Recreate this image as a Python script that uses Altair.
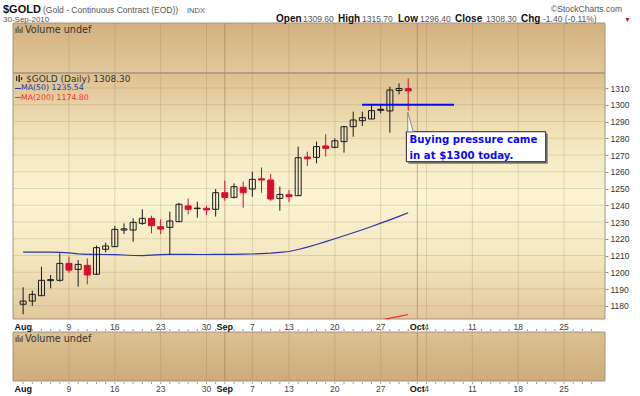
import altair as alt
import pandas as pd
import numpy as np

# ---------------- data ----------------
day_idx = list(range(43))  # Aug 2 .. Sep 30, 2010 trading days
opens = [1180.9, 1182.8, 1186.0, 1195.0, 1195.2, 1205.3, 1201.7, 1204.1, 1198.8, 1213.7,
         1215.3, 1225.2, 1225.2, 1229.2, 1232.2, 1227.2, 1226.8, 1230.2, 1239.6, 1238.0,
         1238.2, 1237.6, 1247.5, 1244.7, 1250.7, 1249.7, 1255.8, 1255.1, 1244.1, 1246.3,
         1245.7, 1268.8, 1268.6, 1275.4, 1274.6, 1278.0, 1286.9, 1290.5, 1291.5, 1297.3,
         1296.3, 1308.5, 1309.6]
highs = [1191.0, 1189.0, 1203.3, 1198.4, 1211.3, 1209.3, 1207.3, 1208.3, 1215.9, 1217.7,
         1227.6, 1229.2, 1232.2, 1237.6, 1233.8, 1231.6, 1236.2, 1241.5, 1244.1, 1242.1,
         1239.6, 1249.7, 1254.7, 1253.1, 1254.1, 1260.0, 1262.6, 1258.7, 1251.1, 1249.1,
         1275.0, 1272.0, 1278.0, 1282.4, 1280.0, 1287.3, 1295.9, 1295.9, 1299.9, 1299.9,
         1310.8, 1312.8, 1315.7]
lows = [1174.9, 1179.9, 1186.0, 1190.4, 1194.4, 1199.7, 1191.4, 1192.8, 1198.4, 1211.9,
        1215.3, 1222.8, 1218.2, 1228.2, 1223.3, 1222.7, 1210.7, 1230.2, 1234.6, 1232.6,
        1234.2, 1233.2, 1242.7, 1244.1, 1238.5, 1245.1, 1247.5, 1242.7, 1236.7, 1241.8,
        1245.7, 1263.4, 1265.0, 1269.0, 1274.0, 1271.4, 1280.9, 1287.3, 1291.5, 1294.9,
        1283.3, 1306.2, 1296.4]
closes = [1182.8, 1186.8, 1195.2, 1195.6, 1205.3, 1201.3, 1204.7, 1198.4, 1214.7, 1215.7,
          1225.6, 1225.9, 1229.8, 1232.2, 1227.8, 1225.8, 1230.6, 1240.6, 1237.6, 1238.3,
          1237.2, 1247.5, 1244.6, 1251.1, 1247.5, 1255.5, 1255.1, 1243.7, 1246.5, 1245.1,
          1268.4, 1267.8, 1275.0, 1274.0, 1278.5, 1286.9, 1290.9, 1292.3, 1296.5, 1296.7,
          1308.8, 1309.7, 1308.3]
ma50 = [1212.0, 1212.0, 1212.1, 1212.0, 1211.9, 1211.6, 1211.0, 1210.7, 1210.7, 1210.6,
        1210.5, 1210.3, 1210.0, 1209.9, 1210.2, 1210.5, 1210.7, 1210.7, 1210.7, 1210.6,
        1210.6, 1210.7, 1210.7, 1210.7, 1210.8, 1210.9, 1211.1, 1211.4, 1211.9, 1212.4,
        1213.6, 1215.0, 1216.6, 1218.3, 1220.0, 1221.8, 1223.6, 1225.4, 1227.3, 1229.3,
        1231.3, 1233.4, 1235.5]
ma200_idx = [37, 38, 39, 40, 41, 42]
ma200 = [1169.3, 1170.4, 1171.5, 1172.6, 1173.7, 1174.8]

tick_idx = [0, 5, 10, 15, 20, 22, 25, 29, 34, 39, 43, 44, 49, 54, 59]
tick_lbl = ["Aug", "9", "16", "23", "30", "Sep", "7", "13", "20", "27", "Oct", "4", "11", "18", "25"]
tick_bold = [True, False, False, False, False, True, False, False, False, False, True, False, False, False, False]
week_idx = [5, 10, 15, 20, 25, 29, 34, 39, 44, 49, 54, 59]
month_idx = [22, 43]
all_slots = list(range(63))
price_ticks = [1180, 1190, 1200, 1210, 1220, 1230, 1240, 1250, 1260, 1270, 1280, 1290, 1300, 1310]

# annotation
level_line_x = [36.96, 47.0]
level_price = 1300
box_x = [41.8, 57.0]
box_p = [1266.0, 1283.9]
note_lines = ["Buying pressure came", "in at $1300 today."]
note_base = [1277.0, 1267.6]

# ---------------- layout ----------------
X0, Y0 = 13, 73
W, H = 592, 246
RED = "#dc0d2c"
BLK = "#1a1a1a"
XS = alt.Scale(domain=[-0.56, 62.92], nice=False, zero=False)
YS = alt.Scale(domain=[1172.1, 1318.96], nice=False, zero=False)
YAX = alt.Axis(orient="right", values=price_ticks, title=None, grid=False, domain=False, format="d",
               labelFont="Liberation Sans", labelFontSize=8.5, labelColor="#333333",
               tickColor="#9a8c7c", tickSize=3, labelPadding=2)


def X(f):
    return alt.X(f, type="quantitative", scale=XS, axis=None)


def Y(f):
    return alt.Y(f, type="quantitative", scale=YS, axis=YAX)


dummy = pd.DataFrame({"d": [0]})


def grad(stops):
    return {"gradient": "linear", "x1": 0, "y1": 0, "x2": 0, "y2": 1,
            "stops": [{"offset": o, "color": c} for o, c in stops]}


def rect(x1, y1, x2, y2, **kw):
    return alt.Chart(dummy).mark_rect(**kw).encode(
        x=alt.value(x1 - X0), x2=alt.value(x2 - X0), y=alt.value(y1 - Y0), y2=alt.value(y2 - Y0))


def txt(s, x, y, **kw):
    kw.setdefault("font", "Liberation Sans")
    kw.setdefault("baseline", "alphabetic")
    kw.setdefault("align", "left")
    return alt.Chart(dummy).mark_text(text=s, **kw).encode(x=alt.value(x - X0), y=alt.value(y - Y0))


layers = []
# panel backgrounds
layers.append(rect(13, 23, 605, 73, fill=grad([(0, "#d3b07f"), (1, "#e2c89c")])))
layers.append(rect(13, 73, 605, 319, fill=grad([(0, "#dcc190"), (0.25, "#f1e4bb"), (0.5, "#fbf5d3"),
                                                (0.75, "#f3e7c0"), (1, "#e1c89c")])))
layers.append(rect(13, 332, 605, 381, fill=grad([(0, "#dcc192"), (1, "#ceab7a")])))

# vertical grid lines in each panel
wdf = pd.DataFrame({"idx": week_idx})
mdf = pd.DataFrame({"idx": month_idx})
for (t, b) in [(23, 73), (73, 319), (332, 381)]:
    layers.append(alt.Chart(wdf).mark_rule(color="#8c6e46", opacity=0.22, strokeWidth=1).encode(
        x=X("idx"), y=alt.value(t - Y0), y2=alt.value(b - Y0)))
    layers.append(alt.Chart(mdf).mark_rule(color="#7a5e3c", opacity=0.42, strokeWidth=1).encode(
        x=X("idx"), y=alt.value(t - Y0), y2=alt.value(b - Y0)))

# horizontal grid in main panel
pdf = pd.DataFrame({"p": price_ticks})
layers.append(alt.Chart(pdf).mark_rule(color="#8c6e46", opacity=0.2, strokeWidth=1).encode(
    y=Y("p"), x=alt.value(0), x2=alt.value(W)))

# panel borders
for (t, b) in [(23, 73), (73, 319), (332, 381)]:
    layers.append(rect(13, t, 605, b, fill="transparent", stroke="#a39482", strokeWidth=1))

# moving averages
madf = pd.DataFrame({"idx": day_idx, "ma": ma50})
layers.append(alt.Chart(madf).mark_line(color="#2b35a8", strokeWidth=1.2, clip=True).encode(
    x=X("idx"), y=Y("ma")))
ma2df = pd.DataFrame({"idx": ma200_idx, "ma": ma200})
layers.append(alt.Chart(ma2df).mark_line(color="#ff2a2a", strokeWidth=1.2, clip=True).encode(
    x=X("idx"), y=Y("ma")))

# candles
df = pd.DataFrame({"idx": day_idx, "open": opens, "high": highs, "low": lows, "close": closes})
prev = df["close"].shift(1)
df["col"] = np.where(df["close"] < prev, RED, BLK)
df["fil"] = np.where(df["close"] < df["open"], df["col"], "transparent")
layers.append(alt.Chart(df).mark_rule(strokeWidth=1, clip=True).encode(
    x=X("idx"), y=Y("low"), y2="high", color=alt.Color("col:N", scale=None)))
layers.append(alt.Chart(df).mark_bar(size=6, strokeWidth=1, orient="vertical", clip=True).encode(
    x=X("idx"), y=Y("open"), y2="close",
    fill=alt.Fill("fil:N", scale=None), stroke=alt.Stroke("col:N", scale=None)))

# support line
lvl = pd.DataFrame({"x1": [level_line_x[0]], "x2": [level_line_x[1]], "p": [level_price]})
layers.append(alt.Chart(lvl).mark_rule(color="#0a0af0", strokeWidth=2).encode(
    x=X("x1"), x2="x2", y=Y("p")))

# callout
bx = pd.DataFrame({"x1": [box_x[0]], "x2": [box_x[1]], "p1": [box_p[0]], "p2": [box_p[1]],
                   "sx1": [box_x[0] + 0.22], "sx2": [box_x[1] + 0.22],
                   "sp1": [box_p[0] - 1.2], "sp2": [box_p[1] - 1.2]})
layers.append(alt.Chart(bx).mark_rect(color="#7a7a7a").encode(x=X("sx1"), x2="sx2", y=Y("sp1"), y2="sp2"))
layers.append(alt.Chart(bx).mark_rect(fill="white", stroke="#222", strokeWidth=1).encode(
    x=X("x1"), x2="x2", y=Y("p1"), y2="p2"))
ptr = pd.DataFrame({"idx": [41.95, 42.55], "top": [1295.6, box_p[1]], "base": [box_p[1], box_p[1]]})
layers.append(alt.Chart(ptr).mark_area(fill="white", stroke="#888", strokeWidth=1).encode(
    x=X("idx"), y=Y("top"), y2="base"))
ndf = pd.DataFrame({"idx": [42.15, 42.15], "p": note_base, "t": note_lines})
layers.append(alt.Chart(ndf).mark_text(align="left", baseline="alphabetic", font="DejaVu Sans",
                                       fontWeight="bold", fontSize=10.2, color="#0a0af0").encode(
    x=X("idx"), y=Y("p"), text="t:N"))

# x-axis labels (two rows) and minor ticks
tdf = pd.DataFrame({"idx": tick_idx, "lbl": tick_lbl, "bold": tick_bold})
sdf = pd.DataFrame({"idx": all_slots})
for yc, (tt, tb) in [(326.5, (329, 331)), (388.5, (382, 384))]:
    layers.append(alt.Chart(sdf).mark_rule(color="#9a9a9a", strokeWidth=1).encode(
        x=X("idx"), y=alt.value(tt - Y0), y2=alt.value(tb - Y0)))
    layers.append(alt.Chart(tdf[~tdf["bold"]]).mark_text(
        font="Liberation Sans", fontSize=8.5, color="#444444", baseline="middle").encode(
        x=X("idx"), y=alt.value(yc - Y0), text="lbl:N"))
    layers.append(alt.Chart(tdf[tdf["bold"]]).mark_text(
        font="Liberation Sans", fontSize=9, fontWeight="bold", color="#111111", baseline="middle").encode(
        x=X("idx"), y=alt.value(yc - Y0), text="lbl:N"))

# header texts
layers.append(txt("$GOLD", 3, 13, fontSize=11, fontWeight="bold", color="#111"))
layers.append(txt("(Gold - Continuous Contract (EOD))", 43, 12.5, fontSize=8.5, color="#555"))
layers.append(txt("INDX", 187, 12.5, fontSize=7.5, color="#555"))
layers.append(txt("30-Sep-2010", 3, 21.5, fontSize=8, color="#555"))
layers.append(txt("\u00a9StockCharts.com", 622, 12, fontSize=8.5, color="#555", align="right"))
hdr = [("Open", 276, True), ("1309.60", 303, False), ("High", 338, True), ("1315.70", 362, False),
       ("Low", 398, True), ("1296.40", 420, False), ("Close", 455, True), ("1308.30", 486, False),
       ("Chg", 521, True), ("-1.40 (-0.11%)", 543, False)]
for s, x, b in hdr:
    if b:
        layers.append(txt(s, x, 22, fontSize=10, fontWeight="bold", color="#111"))
    else:
        layers.append(txt(s, x, 22, fontSize=8.5, color="#555"))
layers.append(txt("\u25bc", 624, 22, fontSize=7, color=RED))

# panel legends
layers.append(txt("Volume undef", 25, 30, fontSize=9.6, font="DejaVu Sans", color="#333", baseline="middle"))
layers.append(txt("Volume undef", 25, 339, fontSize=9.6, font="DejaVu Sans", color="#333", baseline="middle"))
for yy in (30, 339):
    for dx, hh in ((15.5, 5), (17.5, 7), (19.5, 4), (21.5, 6)):
        layers.append(rect(dx, yy + 3 - hh, dx + 1.2, yy + 3, fill="#555"))
layers.append(txt("$GOLD (Daily) 1308.30", 26, 78.5, fontSize=9, font="DejaVu Sans", color="#333",
                  baseline="middle"))
layers.append(rect(16, 76, 17.2, 81, fill="#333"))
layers.append(rect(18.5, 75, 20, 82, fill="#333"))
layers.append(rect(21, 77, 22.2, 80, fill="#333"))
layers.append(rect(15, 88, 21, 89, fill="#2b35a8"))
layers.append(txt("MA(50) 1235.54", 21, 88.3, fontSize=7.8, font="DejaVu Sans", color="#2b35a8",
                  baseline="middle"))
layers.append(rect(15, 97, 21, 98, fill="#ff2a2a"))
layers.append(txt("MA(200) 1174.80", 21, 97.5, fontSize=7.8, font="DejaVu Sans", color="#ff2a2a",
                  baseline="middle"))

chart = alt.layer(*layers).properties(
    width=W, height=H,
    autosize=alt.AutoSizeParams(type="none"),
    padding={"left": X0, "top": Y0, "right": 640 - X0 - W, "bottom": 396 - Y0 - H},
    background="white",
).configure_view(strokeWidth=0)

chart.save("out.html", embed_options={"renderer": "svg", "actions": False})
